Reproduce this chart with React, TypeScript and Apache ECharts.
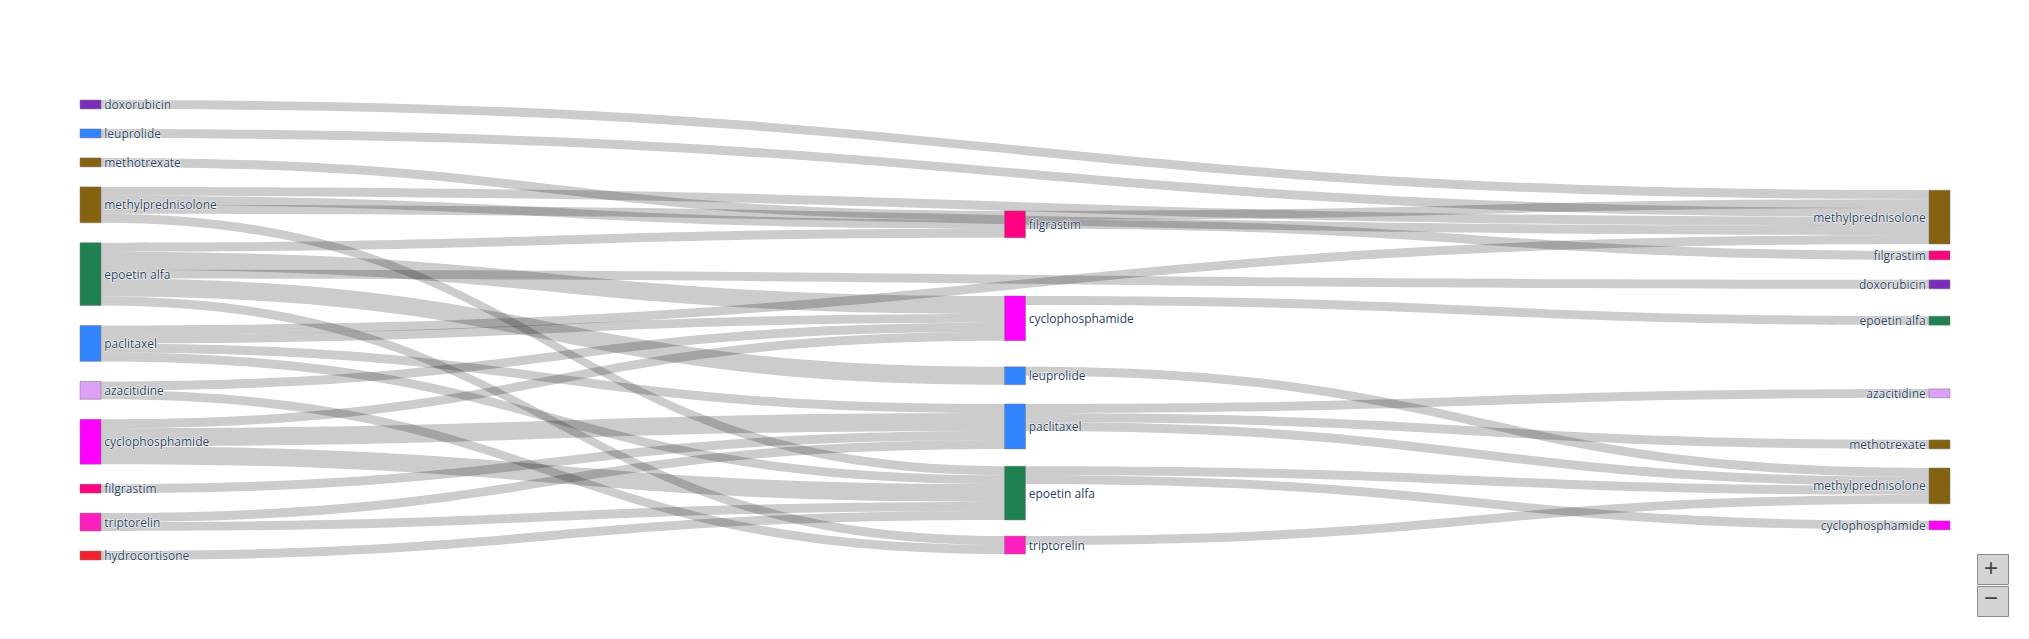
import { useEffect, useRef } from "react";
import * as echarts from "echarts";

// column 0 = first drug, 1 = second, 2 = third
const leftNodes = ["doxorubicin", "leuprolide", "methotrexate", "methylprednisolone", "epoetin alfa", "paclitaxel", "azacitidine", "cyclophosphamide", "filgrastim", "triptorelin", "hydrocortisone"];
const midNodes = ["filgrastim", "cyclophosphamide", "leuprolide", "paclitaxel", "epoetin alfa", "triptorelin"];
const rightNodes = ["methylprednisolone", "filgrastim", "doxorubicin", "epoetin alfa", "azacitidine", "methotrexate", "methylprednisolone ", "cyclophosphamide"];

// vertical placement (fraction of the plot height)
const midY = [0.241, 0.426, 0.58, 0.661, 0.796, 0.948];
const rightY = [0.196, 0.328, 0.391, 0.47, 0.628, 0.739, 0.8, 0.915];

const nodeColors: Record<string, string> = {
  doxorubicin: "#7b2cb8",
  leuprolide: "#3385ff",
  methotrexate: "#85620f",
  methylprednisolone: "#85620f",
  "epoetin alfa": "#1f8050",
  paclitaxel: "#3385ff",
  azacitidine: "#dda0f7",
  cyclophosphamide: "#ff00ff",
  filgrastim: "#ff0080",
  triptorelin: "#ff1ec0",
  hydrocortisone: "#f5222d",
};

// [source column, source, target column, target, value]
const flows: [number, string, number, string, number][] = [
  [0, "doxorubicin", 2, "methylprednisolone", 1],
  [0, "leuprolide", 2, "methylprednisolone", 1],
  [0, "methotrexate", 1, "filgrastim", 1],
  [0, "methylprednisolone", 2, "methylprednisolone", 1],
  [0, "methylprednisolone", 1, "filgrastim", 1],
  [0, "methylprednisolone", 1, "epoetin alfa", 1],
  [0, "methylprednisolone", 2, "methylprednisolone", 1],
  [0, "epoetin alfa", 1, "filgrastim", 1],
  [0, "epoetin alfa", 2, "doxorubicin", 1],
  [0, "epoetin alfa", 1, "cyclophosphamide", 2],
  [0, "epoetin alfa", 1, "leuprolide", 2],
  [0, "epoetin alfa", 1, "triptorelin", 1],
  [0, "paclitaxel", 2, "methylprednisolone", 1],
  [0, "paclitaxel", 1, "cyclophosphamide", 1],
  [0, "paclitaxel", 1, "paclitaxel", 1],
  [0, "paclitaxel", 1, "epoetin alfa", 1],
  [0, "azacitidine", 1, "cyclophosphamide", 1],
  [0, "azacitidine", 1, "triptorelin", 1],
  [0, "cyclophosphamide", 1, "cyclophosphamide", 1],
  [0, "cyclophosphamide", 1, "paclitaxel", 2],
  [0, "cyclophosphamide", 1, "epoetin alfa", 2],
  [0, "filgrastim", 1, "paclitaxel", 1],
  [0, "triptorelin", 1, "paclitaxel", 1],
  [0, "triptorelin", 1, "epoetin alfa", 1],
  [0, "hydrocortisone", 1, "epoetin alfa", 1],
  [1, "filgrastim", 2, "methylprednisolone", 1],
  [1, "filgrastim", 2, "filgrastim", 1],
  [1, "cyclophosphamide", 2, "epoetin alfa", 1],
  [1, "leuprolide", 2, "methylprednisolone ", 1],
  [1, "paclitaxel", 2, "azacitidine", 1],
  [1, "paclitaxel", 2, "methotrexate", 1],
  [1, "paclitaxel", 2, "methylprednisolone ", 1],
  [1, "epoetin alfa", 2, "methylprednisolone ", 1],
  [1, "epoetin alfa", 2, "cyclophosphamide", 1],
  [1, "triptorelin", 2, "methylprednisolone ", 1],
];

const id = (col: number, name: string) => `${col}|${name}`;

export default function App() {
  const ref = useRef<HTMLDivElement>(null);

  useEffect(() => {
    if (!ref.current) return;
    const chart = echarts.init(ref.current, undefined, { renderer: "svg" });

    const mkNodes = (names: string[], col: number, ys?: number[]) =>
      names.map((n, i) => ({
        name: id(col, n),
        depth: col,
        ...(ys ? { localY: ys[i] } : {}),
        itemStyle: { color: nodeColors[n.trim()], borderColor: "#777", borderWidth: 0.5 },
        label: { position: col === 2 ? "left" : "right" },
      }));

    chart.setOption({
      animation: false,
      series: [
        {
          type: "sankey",
          left: 72,
          right: 71,
          top: 92,
          bottom: 71,
          nodeWidth: 21,
          nodeGap: 20,
          nodeAlign: "left",
          layoutIterations: 0,
          draggable: false,
          data: [...mkNodes(leftNodes, 0), ...mkNodes(midNodes, 1, midY), ...mkNodes(rightNodes, 2, rightY)],
          links: flows.map(([sc, s, tc, t, v]) => ({ source: id(sc, s), target: id(tc, t), value: v })),
          lineStyle: { color: "rgba(0,0,0,0.2)", opacity: 1, curveness: 0.5 },
          emphasis: { disabled: true },
          label: {
            color: "#2a3f5f",
            fontFamily: "Open Sans, sans-serif",
            fontSize: 12,
            distance: 3,
            formatter: (p: any) => p.name.split("|")[1].trim(),
            textBorderColor: "#fff",
            textBorderWidth: 1,
          },
        },
      ],
      graphic: [
        { type: "rect", left: 1969, top: 546, shape: { width: 31, height: 30 }, style: { fill: "#d4d4d4", stroke: "#888" } },
        { type: "text", left: 1976, top: 547, style: { text: "+", fontSize: 24, fill: "#444" } },
        { type: "rect", left: 1969, top: 578, shape: { width: 31, height: 30 }, style: { fill: "#d4d4d4", stroke: "#888" } },
        { type: "text", left: 1976, top: 577, style: { text: "−", fontSize: 24, fill: "#444" } },
      ],
    });

    return () => chart.dispose();
  }, []);

  return <div ref={ref} style={{ width: 2013, height: 623, background: "#fff" }} />;
}
